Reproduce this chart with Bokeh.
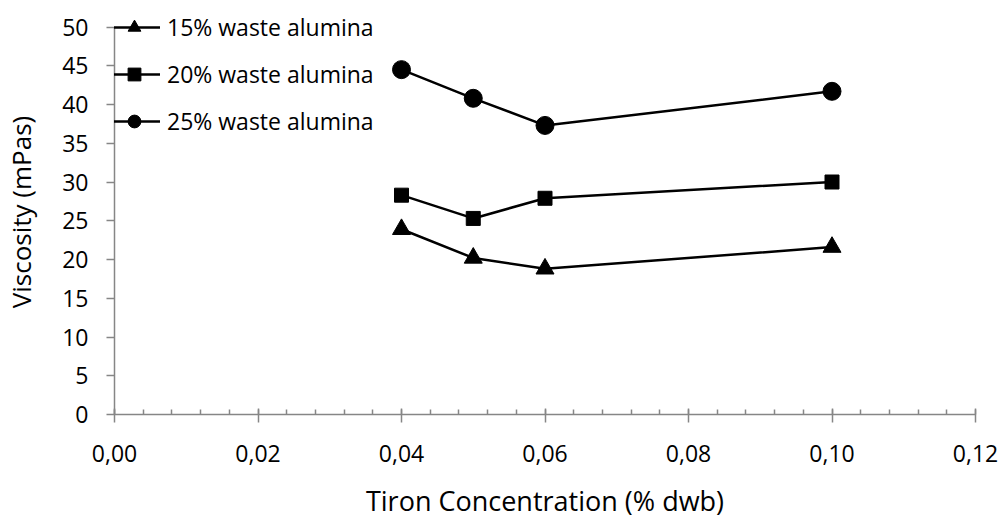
from bokeh.plotting import figure
from bokeh.models import (ColumnDataSource, Legend, LegendItem, Range1d,
                          SingleIntervalTicker, CustomJSTickFormatter)
from bokeh.embed import file_html
from bokeh.resources import INLINE

# ---- data ----
tiron = [0.04, 0.05, 0.06, 0.10]
visc_15 = [23.9, 20.2, 18.8, 21.6]
visc_20 = [28.3, 25.3, 27.9, 30.0]
visc_25 = [44.5, 40.8, 37.3, 41.7]
series_names = ["15% waste alumina", "20% waste alumina", "25% waste alumina"]
series_markers = ["triangle", "square", "circle"]
series_sizes = [18, 14, 18]
x_title = "Tiron Concentration (% dwb)"
y_title = "Viscosity (mPas)"
x_min, x_max = 0.0, 0.12
y_min, y_max = 0.0, 50.0

FONT = "Open Sans"
AXIS_COLOR = "#868686"

# frame from y=9 to y=414 px; the axis itself spans 0..50 (26.5..414 px),
# the extra headroom keeps the legend's first row from being clipped
frame_top, frame_bottom, axis_top = 9, 414, 26.5
y_end = y_max * (frame_bottom - frame_top) / (frame_bottom - axis_top)

p = figure(width=1002, height=525, output_backend="svg", toolbar_location=None,
           x_range=Range1d(x_min, x_max), y_range=Range1d(y_min, y_end),
           min_border_left=114, min_border_right=27, min_border_top=frame_top,
           min_border_bottom=111)
p.outline_line_color = None
p.xgrid.grid_line_color = None
p.ygrid.grid_line_color = None
p.background_fill_color = "white"
p.border_fill_color = "white"

items = []
for name, vals, mk, sz in zip(series_names, [visc_15, visc_20, visc_25],
                              series_markers, series_sizes):
    src = ColumnDataSource(dict(x=tiron, y=vals))
    lr = p.line("x", "y", source=src, line_color="black", line_width=2.5)
    sr = p.scatter("x", "y", source=src, marker=mk, size=sz,
                   fill_color="black", line_color="black")
    items.append(LegendItem(label=name, renderers=[lr, sr]))

legend = Legend(items=items, location=(-6, 277), padding=0, margin=0,
                spacing=15, glyph_width=52, glyph_height=32, label_height=32,
                label_standoff=7, label_text_font=FONT,
                label_text_font_size="23px", label_text_color="black",
                border_line_alpha=0, background_fill_alpha=0)
p.add_layout(legend, "center")

# x axis
xa = p.xaxis[0]
xa.ticker = SingleIntervalTicker(interval=0.02, num_minor_ticks=5)
xa.formatter = CustomJSTickFormatter(code="return tick.toFixed(2).replace('.', ',');")
xa.axis_line_color = AXIS_COLOR
xa.axis_line_width = 1.5
xa.major_tick_line_color = AXIS_COLOR
xa.major_tick_line_width = 1.5
xa.minor_tick_line_color = AXIS_COLOR
xa.minor_tick_line_width = 1.5
xa.major_tick_in = 6
xa.major_tick_out = 8
xa.minor_tick_in = 5
xa.minor_tick_out = 0
xa.major_label_text_font = FONT
xa.major_label_text_font_size = "23px"
xa.major_label_text_color = "black"
xa.major_label_standoff = 22
xa.axis_label = x_title
xa.axis_label_text_font = FONT
xa.axis_label_text_font_size = "27px"
xa.axis_label_text_font_style = "normal"
xa.axis_label_text_color = "black"
xa.axis_label_standoff = 17

# y axis
ya = p.yaxis[0]
ya.bounds = (y_min, y_max)
ya.ticker = SingleIntervalTicker(interval=5, num_minor_ticks=0)
ya.formatter = CustomJSTickFormatter(code="return tick.toFixed(0);")
ya.axis_line_color = AXIS_COLOR
ya.axis_line_width = 1.5
ya.major_tick_line_color = AXIS_COLOR
ya.major_tick_line_width = 1.5
ya.major_tick_in = 0
ya.major_tick_out = 8
ya.minor_tick_line_color = None
ya.major_label_text_font = FONT
ya.major_label_text_font_size = "23px"
ya.major_label_text_color = "black"
ya.major_label_standoff = 18
ya.axis_label = y_title
ya.axis_label_text_font = FONT
ya.axis_label_text_font_size = "26px"
ya.axis_label_text_font_style = "normal"
ya.axis_label_text_color = "black"
ya.axis_label_standoff = 20

open("out.html", "w").write(file_html(p, INLINE))
